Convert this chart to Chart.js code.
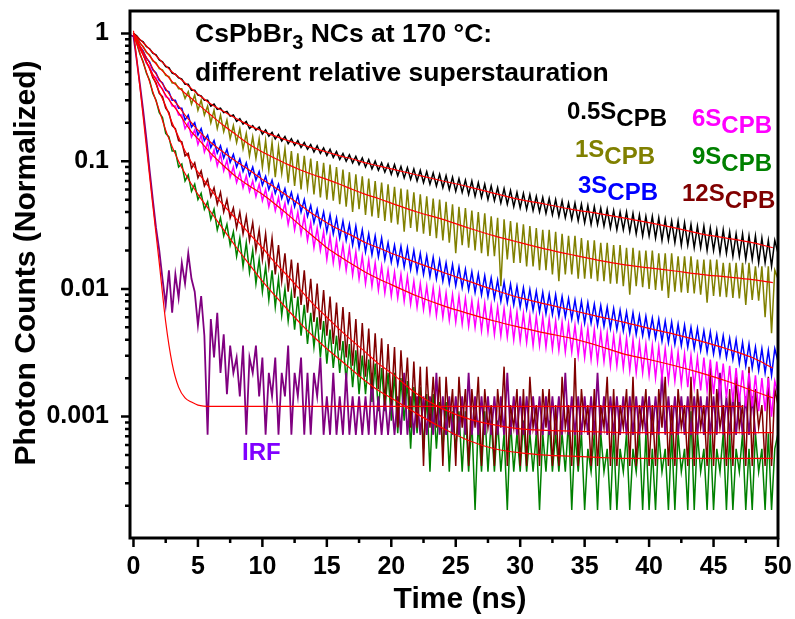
<!DOCTYPE html>
<html>
<head>
<meta charset="utf-8">
<script src="https://cdn.jsdelivr.net/npm/chart.js@4.4.1/dist/chart.umd.min.js"></script>
<style>
  html, body { margin:0; padding:0; background:#fff; }
  #wrap { width:795px; height:619px; }
</style>
</head>
<body>
<div id="wrap"><canvas id="chart" width="795" height="619"></canvas></div>
<script>
const FONT = '"Liberation Sans", Arial, sans-serif';

// ── Axes ─────────────────────────────────────────────────────
const X_MIN = -0.27, X_MAX = 50;
const Y_MIN = 1.12e-4, Y_MAX = 1.5;
const xTicks = [0, 5, 10, 15, 20, 25, 30, 35, 40, 45, 50];
const yDecades = [0.0001, 0.001, 0.01, 0.1, 1];
const yTickLabels = ['0.0001', '0.001', '0.01', '0.1', '1'];
const X_TITLE = 'Time (ns)';
const Y_TITLE = 'Photon Counts (Normalized)';

// ── Measured decays (normalized counts), channel grid t0 + i*dt (ns) ──
const DATA_T0 = 0, DATA_DT = 0.25;
const IRF_T0 = -0.25, IRF_DT = 0.25;

// 0.5 S_CPB
const s05 = [
  1.0,0.96,0.89,0.86,0.79,0.76,0.70,0.68,
  0.62,0.60,0.55,0.54,0.49,0.48,0.45,0.44,
  0.40,0.40,0.36,0.36,0.33,0.325,0.30,0.30,
  0.27,0.28,0.255,0.26,0.24,0.245,0.225,0.23,
  0.205,0.215,0.195,0.205,0.18,0.19,0.175,0.185,
  0.163,0.176,0.157,0.168,0.149,0.162,0.144,0.156,
  0.137,0.15,0.133,0.145,0.128,0.14,0.124,0.135,
  0.118,0.132,0.115,0.127,0.111,0.124,0.107,0.119,
  0.103,0.115,0.1,0.112,0.097,0.109,0.094,0.106,
  0.09,0.103,0.087,0.1,0.085,0.097,0.082,0.095,
  0.079,0.094,0.077,0.091,0.074,0.089,0.072,0.087,
  0.07,0.085,0.068,0.083,0.066,0.081,0.064,0.079,
  0.062,0.077,0.06,0.075,0.058,0.073,0.057,0.071,
  0.055,0.07,0.053,0.068,0.052,0.066,0.05,0.064,
  0.049,0.062,0.047,0.061,0.046,0.059,0.044,0.057,
  0.043,0.056,0.042,0.055,0.041,0.053,0.04,0.052,
  0.039,0.051,0.038,0.05,0.037,0.049,0.036,0.047,
  0.035,0.047,0.034,0.046,0.033,0.045,0.032,0.044,
  0.032,0.043,0.031,0.042,0.03,0.041,0.029,0.04,
  0.029,0.04,0.028,0.039,0.027,0.038,0.026,0.037,
  0.026,0.037,0.025,0.036,0.024,0.035,0.024,0.034,
  0.023,0.034,0.022,0.033,0.022,0.032,0.021,0.031,
  0.021,0.031,0.02,0.03,0.02,0.029,0.019,0.029,
  0.019,0.028,0.018,0.027,0.018,0.027,0.017,0.026,
  0.017,0.026,0.016,0.025,0.016,0.024,0.015,0.024,
  0.019];
// 1 S_CPB
const s1 = [
  1.0,0.93,0.84,0.79,0.71,0.68,0.61,0.59,
  0.53,0.52,0.47,0.46,0.41,0.41,0.37,0.37,
  0.31,0.35,0.28,0.33,0.25,0.3,0.23,0.27,
  0.2,0.25,0.18,0.23,0.17,0.21,0.15,0.19,
  0.14,0.18,0.125,0.165,0.11,0.155,0.105,0.15,
  0.09,0.145,0.085,0.14,0.075,0.13,0.08,0.125,
  0.068,0.12,0.064,0.115,0.06,0.11,0.062,0.105,
  0.055,0.1,0.052,0.097,0.05,0.094,0.049,0.09,
  0.046,0.086,0.044,0.082,0.04,0.079,0.042,0.076,
  0.038,0.073,0.037,0.07,0.036,0.068,0.034,0.066,
  0.033,0.063,0.032,0.061,0.028,0.06,0.03,0.057,
  0.028,0.055,0.027,0.053,0.026,0.051,0.025,0.05,
  0.024,0.048,0.023,0.046,0.019,0.044,0.022,0.043,
  0.021,0.041,0.02,0.04,0.019,0.039,0.018,0.037,
  0.018,0.036,0.0105,0.035,0.017,0.034,0.016,0.033,
  0.016,0.032,0.015,0.031,0.015,0.03,0.014,0.029,
  0.014,0.029,0.013,0.028,0.0115,0.027,0.013,0.026,
  0.013,0.026,0.012,0.025,0.012,0.024,0.012,0.024,
  0.0115,0.023,0.0115,0.023,0.011,0.022,0.011,0.022,
  0.0105,0.021,0.009,0.021,0.0105,0.02,0.0103,0.02,
  0.01,0.02,0.0098,0.019,0.0097,0.019,0.0085,0.019,
  0.0095,0.018,0.0094,0.018,0.0093,0.018,0.0092,0.017,
  0.009,0.017,0.0078,0.017,0.0088,0.017,0.0087,0.016,
  0.0086,0.016,0.0085,0.016,0.0084,0.016,0.0075,0.016,
  0.0082,0.015,0.0081,0.015,0.006,0.015,0.0045,0.014,
  0.012];
// 3 S_CPB
const s3 = [
  1.0,0.9,0.79,0.73,0.64,0.6,0.52,0.49,
  0.43,0.41,0.36,0.35,0.3,0.3,0.26,0.26,
  0.21,0.23,0.185,0.2,0.16,0.18,0.145,0.16,
  0.128,0.145,0.116,0.132,0.106,0.124,0.098,0.113,
  0.09,0.104,0.083,0.097,0.077,0.09,0.071,0.083,
  0.065,0.076,0.06,0.071,0.056,0.066,0.051,0.061,
  0.047,0.057,0.044,0.054,0.04,0.05,0.037,0.045,
  0.033,0.042,0.031,0.04,0.028,0.038,0.027,0.036,
  0.025,0.034,0.024,0.032,0.022,0.031,0.021,0.029,
  0.0195,0.027,0.0185,0.026,0.0178,0.025,0.017,0.023,
  0.0162,0.022,0.0155,0.0215,0.0148,0.021,0.0142,0.02,
  0.0136,0.019,0.013,0.0182,0.0125,0.0177,0.012,0.0168,
  0.0115,0.016,0.011,0.0155,0.0106,0.0148,0.0102,0.0142,
  0.0098,0.0136,0.0094,0.0131,0.009,0.0127,0.0087,0.0122,
  0.0084,0.0117,0.008,0.0113,0.0078,0.0109,0.0075,0.0105,
  0.0072,0.0102,0.007,0.0099,0.0068,0.0096,0.0066,0.0094,
  0.0064,0.0091,0.0063,0.009,0.0061,0.0087,0.006,0.0084,
  0.0058,0.0082,0.0056,0.008,0.0054,0.0078,0.0054,0.0076,
  0.0052,0.0074,0.0051,0.0072,0.0049,0.007,0.0048,0.0068,
  0.0047,0.0066,0.0045,0.0065,0.0044,0.0062,0.0043,0.0061,
  0.0042,0.0059,0.0041,0.0058,0.0039,0.0056,0.0038,0.0055,
  0.0037,0.0053,0.0036,0.0052,0.0035,0.005,0.0034,0.0049,
  0.0033,0.0047,0.0032,0.0046,0.0031,0.0044,0.003,0.0043,
  0.0029,0.0041,0.0028,0.004,0.0026,0.0038,0.0025,0.0037,
  0.0024,0.0035,0.0023,0.0034,0.0022,0.0033,0.0021,0.0034,
  0.0027];
// 6 S_CPB
const s6 = [
  1.0,0.88,0.76,0.69,0.59,0.55,0.47,0.45,
  0.39,0.37,0.32,0.31,0.27,0.27,0.23,0.23,
  0.18,0.2,0.155,0.175,0.135,0.16,0.118,0.14,
  0.103,0.122,0.092,0.113,0.084,0.102,0.075,0.09,
  0.068,0.081,0.062,0.077,0.058,0.07,0.053,0.066,
  0.049,0.06,0.044,0.056,0.041,0.052,0.037,0.047,
  0.032,0.043,0.029,0.04,0.027,0.037,0.024,0.033,
  0.021,0.03,0.02,0.028,0.017,0.026,0.016,0.024,
  0.015,0.022,0.014,0.021,0.0128,0.0195,0.012,0.018,
  0.011,0.0168,0.0105,0.016,0.0098,0.015,0.0093,0.014,
  0.0088,0.0135,0.0085,0.013,0.008,0.0125,0.0076,0.0115,
  0.0072,0.011,0.0069,0.0105,0.0065,0.0102,0.0062,0.0098,
  0.006,0.0093,0.0057,0.009,0.0055,0.0088,0.0053,0.0084,
  0.0051,0.0081,0.005,0.0079,0.0047,0.0077,0.0046,0.0074,
  0.0044,0.0072,0.0043,0.007,0.0042,0.0068,0.004,0.0066,
  0.0039,0.0064,0.0038,0.0062,0.0036,0.0061,0.0036,0.006,
  0.0035,0.0058,0.0034,0.0056,0.0033,0.0055,0.0032,0.0053,
  0.0032,0.0052,0.003,0.005,0.0029,0.0049,0.0028,0.0048,
  0.0027,0.0046,0.0027,0.0045,0.0025,0.0043,0.0025,0.0042,
  0.0024,0.0041,0.0023,0.004,0.0022,0.0038,0.0022,0.0037,
  0.0021,0.0036,0.002,0.0035,0.002,0.0034,0.0019,0.0033,
  0.0019,0.0032,0.0018,0.0031,0.0017,0.003,0.0017,0.0029,
  0.0016,0.0029,0.0016,0.0028,0.0015,0.0027,0.0015,0.0026,
  0.0014,0.0025,0.0013,0.0024,0.0013,0.0023,0.0012,0.0022,
  0.0012,0.0021,0.0011,0.002,0.0011,0.002,0.001,0.0019,
  0.0015];
// 9 S_CPB
const s9 = [
  1.0,0.84,0.69,0.6,0.49,0.43,0.34,0.3,
  0.24,0.22,0.165,0.155,0.12,0.12,0.09,0.095,
  0.07,0.078,0.058,0.066,0.05,0.056,0.042,0.048,
  0.035,0.042,0.029,0.036,0.026,0.032,0.022,0.028,
  0.018,0.025,0.015,0.023,0.0135,0.02,0.011,0.017,
  0.0095,0.015,0.0082,0.014,0.0072,0.012,0.0062,0.01,
  0.0056,0.0092,0.0048,0.0087,0.0043,0.0075,0.0037,0.0065,
  0.0035,0.006,0.0029,0.0056,0.0026,0.0048,0.0024,0.0043,
  0.0022,0.0039,0.0019,0.0037,0.0017,0.0033,0.0015,0.003,
  0.0015,0.0028,0.0013,0.0026,0.0011,0.0024,0.0011,0.0022,
  0.00093,0.0022,0.00074,0.002,0.00093,0.0019,0.00056,0.0017,
  0.00074,0.0017,0.00056,0.0015,0.00037,0.0015,0.00056,0.0013,
  0.00056,0.0013,0.00037,0.0011,0.00056,0.0011,0.00037,0.0011,
  0.00037,0.00093,0.000186,0.00093,0.00037,0.0011,0.00037,0.00093,
  0.00037,0.00093,0.00037,0.00074,0.000186,0.00093,0.00037,0.00074,
  0.00037,0.00093,0.00037,0.00074,0.00037,0.00074,0.000186,0.00074,
  0.00037,0.00093,0.00037,0.00074,0.00037,0.00074,0.00037,0.00093,
  0.000186,0.00074,0.00037,0.00074,0.000186,0.00056,0.00037,0.00074,
  0.000186,0.00074,0.00037,0.00056,0.000186,0.00074,0.000186,0.00056,
  0.00037,0.00074,0.000186,0.00056,0.00037,0.00074,0.000186,0.00074,
  0.000186,0.00056,0.000186,0.00074,0.00037,0.00056,0.000186,0.00074,
  0.000186,0.00074,0.00037,0.00056,0.000186,0.0011,0.000186,0.00074,
  0.00037,0.00056,0.000186,0.00074,0.000186,0.00056,0.00037,0.00074,
  0.000186,0.00074,0.000186,0.00056,0.00037,0.00074,0.000186,0.00056,
  0.000186,0.00074,0.00037,0.00056,0.000186,0.00074,0.000186,0.00056,
  0.00074];
// 12 S_CPB
const s12 = [
  1.0,0.89,0.76,0.69,0.59,0.54,0.45,0.41,
  0.34,0.32,0.26,0.24,0.19,0.18,0.145,0.142,
  0.11,0.115,0.088,0.097,0.074,0.084,0.064,0.072,
  0.053,0.062,0.046,0.057,0.04,0.05,0.036,0.043,
  0.03,0.04,0.027,0.037,0.024,0.033,0.02,0.029,
  0.017,0.027,0.015,0.025,0.013,0.022,0.0115,0.019,
  0.0095,0.017,0.0085,0.016,0.0075,0.014,0.0065,0.012,
  0.0055,0.011,0.0048,0.0098,0.0043,0.0087,0.0037,0.0078,
  0.0033,0.0072,0.0029,0.0066,0.0025,0.0058,0.00205,0.0054,
  0.00205,0.0049,0.00164,0.0045,0.00164,0.0041,0.00123,0.0037,
  0.00123,0.0035,0.00082,0.0033,0.00123,0.0029,0.00082,0.0027,
  0.00082,0.00246,0.00041,0.00246,0.00082,0.00205,0.00082,0.00205,
  0.00041,0.00205,0.00082,0.00164,0.00041,0.00205,0.00082,0.00164,
  0.00041,0.00164,0.00082,0.00205,0.00041,0.00164,0.00082,0.00123,
  0.00041,0.00164,0.00082,0.00246,0.00041,0.00123,0.00082,0.00164,
  0.00041,0.00164,0.00041,0.00205,0.00082,0.00123,0.00041,0.00164,
  0.00082,0.00164,0.00041,0.00123,0.00041,0.00205,0.00082,0.00123,
  0.00041,0.00287,0.00041,0.00164,0.00082,0.00123,0.00041,0.00164,
  0.00041,0.00123,0.00082,0.00205,0.00041,0.00164,0.00041,0.00123,
  0.00082,0.00164,0.00041,0.00205,0.00041,0.00123,0.00082,0.00164,
  0.00041,0.00123,0.00041,0.00164,0.00082,0.00205,0.00041,0.00123,
  0.00041,0.00164,0.00082,0.00123,0.00041,0.00205,0.00041,0.00164,
  0.00082,0.00123,0.00041,0.00246,0.00041,0.00164,0.00082,0.00123,
  0.00041,0.00164,0.00041,0.00205,0.00082,0.00123,0.00041,0.00246,
  0.00041,0.00164,0.00082,0.00123,0.00041,0.00205,0.00041,0.00164,
  0.00123];
// instrument response
const irf = [
  0.97,0.95,0.62,0.4,0.25,0.15,0.085,0.05,
  0.03,0.02,0.012,0.0075,0.014,0.0065,0.013,0.0085,
  0.016,0.011,0.019,0.012,0.0095,0.0052,0.0088,0.0043,
  0.00072,0.0058,0.0029,0.0065,0.0022,0.0044,0.0015,0.0036,
  0.0022,0.0029,0.00144,0.0036,0.00072,0.0029,0.0022,0.0036,
  0.00144,0.0029,0.00072,0.0022,0.00144,0.0029,0.00072,0.0022,
  0.00144,0.0036,0.00072,0.0022,0.00144,0.0029,0.00072,0.0022,
  0.00072,0.0022,0.00144,0.0029,0.00072,0.00144,0.00072,0.0022,
  0.00072,0.00144,0.00072,0.0022,0.00072,0.00144,0.00072,0.00144,
  0.00072,0.00144,0.00072,0.0022,0.00072,0.00144,0.00072,0.00144,
  0.00072,0.00144,0.00072,0.00144,0.00072,0.0022,0.00072,0.00144,
  0.00072,0.00144,0.00072,0.00144,0.00072,0.00144,0.00072,0.0022,
  0.00072,0.00144,0.00072,0.00144,0.00072,0.00144,0.00072,0.00144,
  0.00072,0.0022,0.00072,0.00144,0.00072,0.00144,0.00072,0.00144,
  0.00072,0.00144,0.00072,0.00144,0.00072,0.0022,0.00072,0.00144,
  0.00072,0.00144,0.00072,0.00144,0.00072,0.00144,0.00072,0.00144,
  0.00072,0.00144,0.00072,0.00144,0.00072,0.00144,0.00072,0.0022,
  0.00072,0.00144,0.00072,0.00144,0.00072,0.00144,0.00072,0.00144,
  0.00072,0.0022,0.00072,0.00144,0.00072,0.00144,0.00072,0.00144,
  0.00072,0.00144,0.00072,0.00144,0.00072,0.00144,0.00072,0.00144,
  0.00072,0.00144,0.00072,0.00144,0.00072,0.0022,0.00072,0.00144,
  0.00072,0.00144,0.00072,0.00144,0.00072,0.00144,0.00072,0.00144,
  0.00072,0.00144,0.00072,0.00144,0.00072,0.00144,0.00072,0.0022,
  0.00072,0.00144,0.00072,0.00144,0.00072,0.00144,0.00072,0.00144,
  0.00072,0.00144,0.00072];

// ── Fitted curves (red) ──────────────────────────────────────
const fitTimes = [0,0.5,1,1.5,2,2.5,3,3.5,4,4.5,5,
  6,7,8,9,10,11,12,13,14,15,16,17,18,19,20,
  22,24,26,28,30,32,34,36,38,40,42,44,46,48,49.6];
const fit05 = [1,0.9,0.8,0.71,0.63,0.56,0.5,0.455,0.41,0.37,0.335,
  0.28,0.245,0.215,0.19,0.172,0.157,0.145,0.135,0.126,0.118,0.11,0.104,0.097,0.092,0.087,
  0.078,0.07,0.063,0.056,0.05,0.046,0.042,0.039,0.036,0.033,0.03,0.027,0.025,0.023,0.021];
const fit1 = [1,0.85,0.72,0.62,0.54,0.48,0.42,0.38,0.34,0.31,0.28,
  0.23,0.19,0.16,0.135,0.118,0.105,0.094,0.085,0.078,0.072,0.066,0.06,0.055,0.051,0.047,
  0.04,0.035,0.03,0.026,0.023,0.0205,0.0185,0.0168,0.0155,0.0146,0.0138,0.013,0.0124,0.0118,0.0112];
const fit3 = [1,0.8,0.65,0.53,0.44,0.37,0.31,0.27,0.23,0.2,0.175,
  0.14,0.117,0.099,0.085,0.072,0.062,0.053,0.045,0.038,0.033,0.029,0.026,0.023,0.021,0.019,
  0.016,0.0135,0.0115,0.0098,0.0085,0.0076,0.0068,0.0061,0.0055,0.0049,0.0044,0.0039,0.0034,0.0029,0.0024];
const fit6 = [1,0.77,0.6,0.48,0.4,0.33,0.28,0.24,0.2,0.17,0.15,
  0.115,0.092,0.075,0.064,0.055,0.046,0.038,0.031,0.0255,0.021,0.018,0.0155,0.0135,0.012,0.0108,
  0.0088,0.0074,0.0064,0.0056,0.005,0.0045,0.0041,0.0036,0.0031,0.0028,0.0025,0.0022,0.0019,0.0016,0.0014];
const fit9 = [1,0.7,0.5,0.35,0.25,0.175,0.13,0.1,0.08,0.066,0.055,
  0.04,0.029,0.021,0.0155,0.0115,0.0088,0.0068,0.0053,0.0042,0.0034,0.0028,0.0023,0.0019,0.0016,0.0014,
  0.00105,0.00081,0.00065,0.00056,0.00052,0.0005,0.00049,0.00048,0.00047,0.00047,0.00047,0.00047,0.00047,0.00047,0.00047];
const fit12 = [1,0.77,0.6,0.46,0.35,0.27,0.2,0.155,0.12,0.098,0.082,
  0.06,0.045,0.035,0.027,0.021,0.016,0.0125,0.0097,0.0075,0.006,0.0048,0.0039,0.0032,0.0026,0.0022,
  0.0015,0.00115,0.00096,0.00086,0.0008,0.00078,0.00077,0.00076,0.00075,0.00075,0.00075,0.00075,0.00075,0.00075,0.00075];
const irfFitTimes = [0,0.5,1,1.5,2,2.5,3,3.5,4,4.5,5,6,47.3];
const irfFit = [1.05,0.38,0.13,0.045,0.016,0.0055,0.0026,0.0017,0.0014,0.0013,0.00123,0.0012,0.0012];

// ── Samples ──────────────────────────────────────────────────
const sampleNames  = ['0.5', '1', '3', '6', '9', '12'];
const sampleColors = ['#000000', '#808000', '#0000ff', '#ff00ff', '#008000', '#800000'];
const sampleData   = [s05, s1, s3, s6, s9, s12];
const sampleFits   = [fit05, fit1, fit3, fit6, fit9, fit12];
const sampleOrder  = [1, 2, 3, 4, 7, 5];   // lower = drawn on top
const IRF_COLOR = '#800080', IRF_TEXT = '#8000ff', FIT_COLOR = '#ff0000';

const toPoints = (vals, t0, dt) => vals.map((y, i) => ({ x: t0 + i * dt, y }));
const zipPoints = (ts, vals) => ts.map((x, i) => ({ x, y: vals[i] }));

const datasets = [];
sampleData.forEach((vals, i) => datasets.push({
  label: sampleNames[i] + 'S', data: toPoints(vals, DATA_T0, DATA_DT),
  borderColor: sampleColors[i], borderWidth: 1.5, order: sampleOrder[i]
}));
datasets.push({ label: 'IRF', data: toPoints(irf, IRF_T0, IRF_DT), borderColor: IRF_COLOR, borderWidth: 1.8, order: 6 });
sampleFits.forEach((vals, i) => datasets.push({
  label: sampleNames[i] + 'S fit', data: zipPoints(fitTimes, vals),
  borderColor: FIT_COLOR, borderWidth: 1.2, cubicInterpolationMode: 'monotone', order: 0
}));
datasets.push({ label: 'IRF fit', data: zipPoints(irfFitTimes, irfFit), borderColor: FIT_COLOR, borderWidth: 1.2, cubicInterpolationMode: 'monotone', order: 0 });

// y ticks: decades plus 2..9 minors
const yTickList = [];
yDecades.forEach(d => {
  if (d >= Y_MIN && d <= Y_MAX) yTickList.push({ value: d, major: true });
  [2,3,4,5,6,7,8,9].forEach(m => { const v = m * d; if (v >= Y_MIN && v <= Y_MAX) yTickList.push({ value: v, major: false }); });
});
yTickList.sort((a, b) => a.value - b.value);

// ── Frame, tick marks, axis titles and text labels ────────────
const framePlugin = {
  id: 'frame',
  afterDraw(chart) {
    const { ctx, chartArea: a, scales: { x, y } } = chart;
    ctx.save();
    ctx.strokeStyle = '#000';
    ctx.lineWidth = 2.5;
    ctx.beginPath();
    xTicks.forEach(v => { const px = x.getPixelForValue(v); ctx.moveTo(px, a.bottom); ctx.lineTo(px, a.bottom + 9); });
    xTicks.slice(0, -1).forEach(v => { const px = x.getPixelForValue(v + 2.5); ctx.moveTo(px, a.bottom); ctx.lineTo(px, a.bottom + 5); });
    yTickList.forEach(t => { const py = y.getPixelForValue(t.value); ctx.moveTo(a.left, py); ctx.lineTo(a.left - (t.major ? 9 : 5), py); });
    ctx.stroke();
    ctx.lineWidth = 3;
    ctx.strokeRect(a.left, a.top, a.right - a.left, a.bottom - a.top);

    // axis titles
    ctx.fillStyle = '#000';
    ctx.font = `bold 30px ${FONT}`;
    ctx.textAlign = 'center';
    ctx.textBaseline = 'middle';
    ctx.fillText(X_TITLE, 460, 600);
    ctx.save();
    ctx.translate(27, 263);
    ctx.rotate(-Math.PI / 2);
    ctx.fillText(Y_TITLE, 0, 0);
    ctx.restore();

    // title
    ctx.textBaseline = 'alphabetic';
    ctx.textAlign = 'left';
    let tx = 195;
    ctx.font = `bold 26.5px ${FONT}`;
    ctx.fillText('CsPbBr', tx, 42); tx += ctx.measureText('CsPbBr').width;
    ctx.font = `bold 20px ${FONT}`;
    ctx.fillText('3', tx, 49); tx += ctx.measureText('3').width;
    ctx.font = `bold 26.5px ${FONT}`;
    ctx.fillText(' NCs at 170 °C:', tx, 42);
    ctx.fillText('different relative superstauration', 195, 81);

    // sample labels
    const pos = [[567, 119], [575, 157], [578, 193], [692, 126], [692, 164], [682, 201]];
    sampleNames.forEach((n, i) => {
      const [lx, ly] = pos[i];
      ctx.fillStyle = sampleColors[i];
      ctx.font = `bold 24px ${FONT}`;
      const head = n + 'S';
      ctx.fillText(head, lx, ly);
      ctx.fillText('CPB', lx + ctx.measureText(head).width, ly + 7);
    });
    ctx.fillStyle = IRF_TEXT;
    ctx.font = `bold 24px ${FONT}`;
    ctx.fillText('IRF', 242, 460);
    ctx.restore();
  }
};

const tickFont = { family: FONT, size: 25, weight: 'bold' };
const noPad = s => { s.paddingTop = 0; s.paddingBottom = 0; s.paddingLeft = 0; s.paddingRight = 0; };

new Chart(document.getElementById('chart'), {
  type: 'line',
  data: { datasets },
  options: {
    responsive: false, animation: false, devicePixelRatio: 1,
    layout: { padding: { top: 11, right: 17, bottom: 0, left: 0 } },
    elements: { point: { radius: 0 }, line: { tension: 0 } },
    plugins: { legend: { display: false }, tooltip: { enabled: false } },
    scales: {
      x: {
        type: 'linear', min: X_MIN, max: X_MAX, bounds: 'data',
        grid: { display: false, drawTicks: false }, border: { display: false },
        afterBuildTicks: s => { s.ticks = xTicks.map(v => ({ value: v })); },
        afterFit: s => { s.height = 81; noPad(s); },
        ticks: { color: '#000', font: tickFont, padding: 14, maxRotation: 0, autoSkip: false, callback: v => String(v) },
        title: { display: false }
      },
      y: {
        type: 'logarithmic', min: Y_MIN, max: Y_MAX, bounds: 'data',
        grid: { display: false, drawTicks: false }, border: { display: false },
        afterBuildTicks: s => { s.ticks = yTickList.map(t => ({ value: t.value })); },
        afterFit: s => { s.width = 130; noPad(s); },
        ticks: { color: '#000', font: tickFont, padding: 21, autoSkip: false,
          callback: (v, i) => yTickList[i] && yTickList[i].major ? yTickLabels[yDecades.indexOf(yTickList[i].value)] : '' },
        title: { display: false }
      }
    }
  },
  plugins: [framePlugin]
});
</script>
</body>
</html>
